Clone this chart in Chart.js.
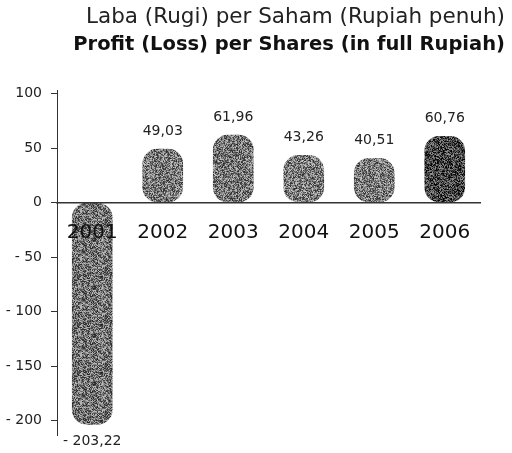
<!DOCTYPE html>
<html>
<head>
<meta charset="utf-8">
<script src="https://cdn.jsdelivr.net/npm/chart.js@4/dist/chart.umd.min.js"></script>
<style>
  html, body { margin: 0; padding: 0; background: #fff; }
  #wrap { width: 512px; height: 453px; position: relative; }
</style>
</head>
<body>
<div id="wrap"><canvas id="c"></canvas></div>
<script>
  const categories = ['2001', '2002', '2003', '2004', '2005', '2006'];
  const profitPerShare = [-203.22, 49.03, 61.96, 43.26, 40.51, 60.76];
  const yTicks = [100, 50, 0, -50, -100, -150, -200];
  const titleId = 'Laba (Rugi) per Saham (Rupiah penuh)';
  const titleEn = 'Profit (Loss) per Shares (in full Rupiah)';

  const FONT = '"DejaVu Sans", Verdana, sans-serif';

  // grainy grey fill like the scanned bars (fixed seed, only a texture)
  function speckle(base, seed){
    const c = document.createElement('canvas');
    c.width = c.height = 48;
    const g = c.getContext('2d');
    const img = g.createImageData(48, 48);
    let s = seed >>> 0;
    for(let i = 0; i < 48 * 48; i++){
      s = (Math.imul(s, 1103515245) + 12345) >>> 0;
      const n = ((s >>> 16) % 160) - 80;
      const v = Math.max(0, Math.min(255, base + n));
      img.data[i*4] = v; img.data[i*4+1] = v; img.data[i*4+2] = v; img.data[i*4+3] = 255;
    }
    g.putImageData(img, 0, 0);
    return g.createPattern(c, 'repeat');
  }

  function fmt(v){
    const s = Math.abs(v).toFixed(2).replace('.', ',');
    return v < 0 ? '- ' + s : s;
  }

  const valueLabels = {
    id: 'valueLabels',
    afterDatasetsDraw(chart){
      const ctx = chart.ctx;
      const meta = chart.getDatasetMeta(0);
      ctx.save();
      ctx.font = '14px ' + FONT;
      ctx.fillStyle = '#222';
      ctx.textAlign = 'center';
      ctx.textBaseline = 'middle';
      meta.data.forEach((bar, i) => {
        const v = profitPerShare[i];
        const y = v >= 0 ? bar.y - 18 : bar.y + 17;
        ctx.fillText(fmt(v), bar.x, y);
      });
      ctx.restore();
    }
  };

  const shades = [115, 122, 118, 124, 124, 72];

  new Chart(document.getElementById('c'), {
    type: 'bar',
    data: {
      labels: categories,
      datasets: [{
        data: profitPerShare,
        backgroundColor: shades.map((b, i) => speckle(b, 17 + i * 31)),
        borderRadius: 15,
        borderSkipped: false,
        barThickness: 40
      }]
    },
    options: {
      responsive: true,
      maintainAspectRatio: false,
      animation: false,
      layout: { padding: { left: 4, right: 7, top: 0, bottom: 18 } },
      plugins: {
        legend: { display: false },
        tooltip: { enabled: false },
        title: {
          display: true, text: titleId, align: 'end', color: '#222',
          font: { family: FONT, size: 21.5, weight: 'normal' },
          padding: { top: 5, bottom: 2 }
        },
        subtitle: {
          display: true, text: titleEn, align: 'end', color: '#111',
          font: { family: FONT, size: 19.5, weight: 'bold' },
          padding: { top: 0, bottom: 34 }
        }
      },
      scales: {
        x: {
          position: { y: 0 },
          grid: { display: false },
          border: { display: true, color: '#333', width: 1.5, z: 1 },
          ticks: { color: '#111', font: { family: FONT, size: 20 }, padding: 10, z: 1 }
        },
        y: {
          min: -213, max: 103,
          afterBuildTicks: s => { s.ticks = yTicks.map(v => ({ value: v })); },
          afterFit: s => { s.width = 53; },
          grid: { display: true, drawOnChartArea: false, tickLength: 6, color: '#333' },
          border: { display: true, color: '#333', width: 1 },
          ticks: {
            color: '#222', font: { family: FONT, size: 14 }, padding: 9,
            callback: v => v < 0 ? '- ' + Math.abs(v) : String(v)
          }
        },
        pad: {
          position: 'right', display: true,
          grid: { display: false }, border: { display: false },
          ticks: { display: false },
          afterFit: s => { s.width = 25; }
        }
      }
    },
    plugins: [valueLabels]
  });
</script>
</body>
</html>
